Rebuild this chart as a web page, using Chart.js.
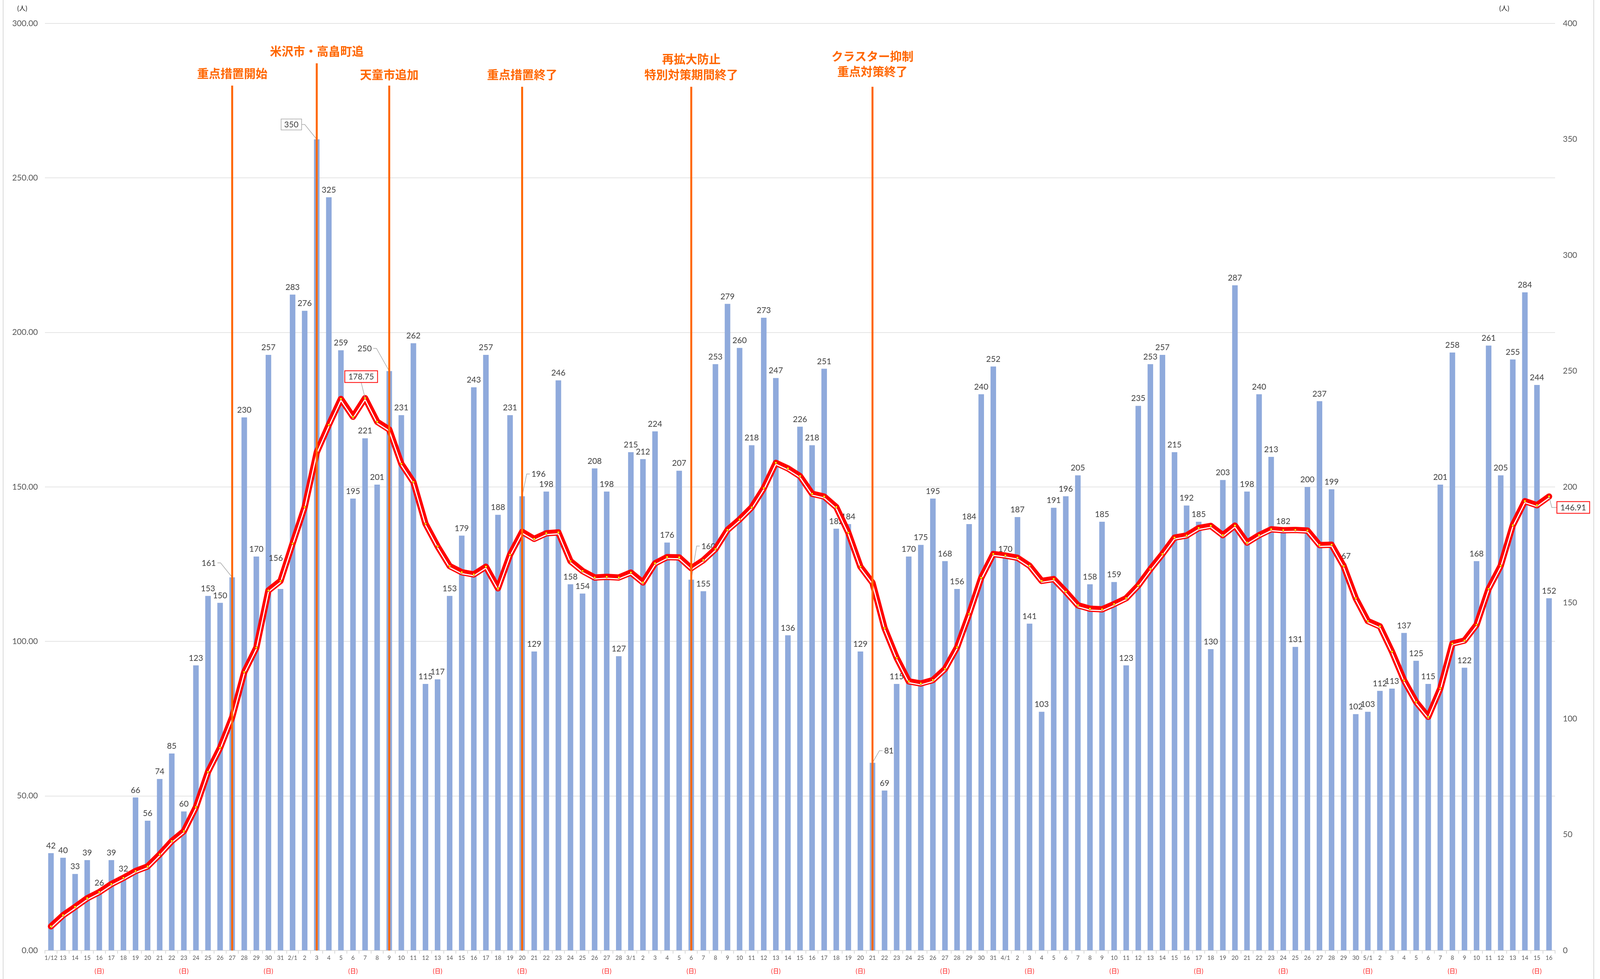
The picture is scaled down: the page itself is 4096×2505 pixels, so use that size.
<!DOCTYPE html>
<html>
<head>
<meta charset="utf-8">
<script src="https://cdn.jsdelivr.net/npm/chart.js@4/dist/chart.umd.min.js"></script>
<style>
  html, body { margin: 0; padding: 0; background: #fff; }
  canvas { display: block; }
</style>
</head>
<body>
<canvas id="covidChart" width="4096" height="2505"></canvas>
<script>
// 日付ラベル (1/12 - 5/16)
const dayLabels = [
  '1/12','13','14','15','16','17','18','19','20','21','22','23','24','25','26','27','28','29','30','31',
  '2/1','2','3','4','5','6','7','8','9','10','11','12','13','14','15','16','17','18','19','20','21','22','23','24','25','26','27','28',
  '3/1','2','3','4','5','6','7','8','9','10','11','12','13','14','15','16','17','18','19','20','21','22','23','24','25','26','27','28','29','30','31',
  '4/1','2','3','4','5','6','7','8','9','10','11','12','13','14','15','16','17','18','19','20','21','22','23','24','25','26','27','28','29','30',
  '5/1','2','3','4','5','6','7','8','9','10','11','12','13','14','15','16'
];

// 日曜日のインデックス
const sundayIdx = [4, 11, 18, 25, 32, 39, 46, 53, 60, 67, 74, 81, 88, 95, 102, 109, 116, 123];

// 新規感染者数 (人) 右軸
const newCases = [
  42, 40, 33, 39, 26, 39, 32, 66, 56, 74, 85, 60, 123, 153, 150, 161, 230, 170, 257, 156,
  283, 276, 350, 325, 259, 195, 221, 201, 250, 231, 262, 115, 117, 153, 179, 243, 257, 188, 231, 196, 129, 198, 246, 158, 154, 208, 198, 127,
  215, 212, 224, 176, 207, 160, 155, 253, 279, 260, 218, 273, 247, 136, 226, 218, 251, 182, 184, 129, 81, 69, 115, 170, 175, 195, 168, 156, 184, 240, 252,
  170, 187, 141, 103, 191, 196, 205, 158, 185, 159, 123, 235, 253, 257, 215, 192, 185, 130, 203, 287, 198, 240, 213, 182, 131, 200, 237, 199, 167, 102,
  103, 112, 113, 137, 125, 115, 201, 258, 122, 168, 261, 205, 255, 284, 244, 152
];

// 直近1週間の人口10万人あたり (左軸)
const weeklyPer100k = [
  7.8, 11.4, 14.1, 16.9, 18.9, 21.5, 23.5, 25.7, 27.2, 31.1, 35.4, 38.6, 46.4, 57.8, 65.6, 75.5, 90.1, 98.0, 116.5, 119.6,
  131.7, 143.5, 161.2, 170.1, 178.5, 172.7, 178.75, 171.1, 168.6, 157.5, 151.6, 138.1, 130.8, 124.4, 122.4, 121.7, 124.2, 117.2, 128.1, 135.5, 133.2, 135.0, 135.3, 126.0, 122.8, 120.7, 120.9, 120.7,
  122.3, 119.1, 125.3, 127.3, 127.2, 123.7, 126.3, 129.9, 136.1, 139.5, 143.4, 149.6, 157.8, 156.0, 153.5, 147.8, 146.9, 143.5, 135.2, 124.2, 119.0, 104.3, 94.7, 87.1, 86.4, 87.5, 91.1, 98.1, 108.9, 120.6, 128.3,
  127.8, 127.1, 124.5, 119.6, 120.2, 116.1, 111.7, 110.6, 110.4, 112.1, 114.0, 118.1, 123.4, 128.3, 133.6, 134.3, 136.7, 137.4, 134.4, 137.5, 132.0, 134.4, 136.3, 136.0, 136.1, 135.9, 131.2, 131.3, 124.4, 114.0,
  106.6, 104.9, 96.7, 87.4, 80.4, 75.6, 84.8, 99.3, 100.3, 105.4, 117.0, 124.5, 137.6, 145.4, 144.1, 146.91
];

const leftTicks = [0, 50, 100, 150, 200, 250, 300];
const rightTicks = [0, 50, 100, 150, 200, 250, 300, 350, 400];

// 対策の節目
const eventIdx = [15, 22, 28, 39, 53, 68];
const eventTexts = [
  ['重点措置開始'],
  ['米沢市・高畠町追'],
  ['天童市追加'],
  ['重点措置終了'],
  ['再拡大防止', '特別対策期間終了'],
  ['クラスター抑制', '重点対策終了']
];

// 表示位置の調整 (スタイル)
const eventStyle = [
  { textY: [188], lineTop: 219 },
  { textY: [131], lineTop: 162 },
  { textY: [191], lineTop: 219 },
  { textY: [191], lineTop: 222 },
  { textY: [151, 191], lineTop: 222 },
  { textY: [144, 183], lineTop: 222 }
];
// 位置を動かしたラベル (index: [dx, dy, boxed, leader])
const barCallouts = {
  15: [-60, -37, false, true],
  19: [-12, -80, false, false],
  22: [-65, -38, true, true],
  28: [-63, -58, false, true],
  39: [42, -57, false, true],
  53: [44, -86, false, true],
  68: [42, -31, false, true]
};
const lineCallouts = {
  26: [-10, -55],
  124: [62, 28]
};

const orange = '#FF6600';
const labelFont = '21px Lato, "Noto Sans", sans-serif';

const labelPlugin = {
  id: 'labels',
  beforeDatasetDraw(chart, args) {
    const ds = chart.data.datasets[args.index];
    if (ds.shiftY) {
      chart.ctx.save();
      chart.ctx.translate(0, ds.shiftY);
    }
  },
  afterDatasetDraw(chart, args) {
    const ctx = chart.ctx;
    const ds = chart.data.datasets[args.index];
    if (ds.shiftY) ctx.restore();
    if (args.index !== 0) return;
    // 棒グラフの数値ラベル
    ctx.save();
    ctx.font = labelFont;
    ctx.fillStyle = '#404040';
    ctx.textAlign = 'center';
    args.meta.data.forEach((bar, i) => {
      const txt = String(newCases[i]);
      const c = barCallouts[i];
      if (!c) {
        ctx.textBaseline = 'alphabetic';
        ctx.fillText(txt, bar.x, bar.y - 12);
        return;
      }
      const lx = bar.x + c[0], ly = bar.y + c[1];
      const w = ctx.measureText(txt).width;
      ctx.textBaseline = 'middle';
      if (c[2]) {
        ctx.fillStyle = '#fff';
        ctx.fillRect(lx - w / 2 - 8, ly - 14, w + 16, 28);
        ctx.strokeStyle = '#a6a6a6';
        ctx.lineWidth = 1.5;
        ctx.strokeRect(lx - w / 2 - 8, ly - 14, w + 16, 28);
        ctx.fillStyle = '#404040';
      }
      ctx.fillText(txt, lx, ly + 1);
      if (!c[3]) return;
      ctx.strokeStyle = '#a6a6a6';
      ctx.lineWidth = 1.5;
      ctx.beginPath();
      const side = c[0] < 0 ? 1 : -1;
      const sx = lx + side * (w / 2 + (c[2] ? 8 : 4));
      ctx.moveTo(sx, ly);
      ctx.lineTo(sx + side * 8, ly);
      ctx.lineTo(bar.x, bar.y);
      ctx.stroke();
    });
    ctx.restore();
  },
  afterDatasetsDraw(chart) {
    const ctx = chart.ctx;
    const x = chart.scales.x;
    const area = chart.chartArea;
    ctx.save();
    // 節目の縦線と見出し
    eventIdx.forEach((idx, k) => {
      const px = x.getPixelForValue(idx);
      ctx.strokeStyle = orange;
      ctx.lineWidth = 5;
      ctx.beginPath();
      ctx.moveTo(px, eventStyle[k].lineTop);
      ctx.lineTo(px, area.bottom);
      ctx.stroke();
      ctx.fillStyle = orange;
      ctx.font = 'bold 30px "Noto Sans CJK JP", sans-serif';
      ctx.textAlign = 'center';
      ctx.textBaseline = 'middle';
      eventTexts[k].forEach((t, j) => ctx.fillText(t, px, eventStyle[k].textY[j]));
    });
    // 折れ線の数値ラベル
    const lineMeta = chart.getDatasetMeta(1);
    ctx.font = labelFont;
    Object.keys(lineCallouts).forEach(key => {
      const i = Number(key);
      const pt = lineMeta.data[i];
      const c = lineCallouts[i];
      const txt = weeklyPer100k[i].toFixed(2);
      const w = ctx.measureText(txt).width;
      const bx = pt.x + c[0], by = pt.y + c[1];
      ctx.strokeStyle = '#a6a6a6';
      ctx.lineWidth = 1.5;
      ctx.beginPath();
      if (c[1] < 0) {
        ctx.moveTo(bx, by + 15);
        ctx.lineTo(pt.x, pt.y);
      } else {
        ctx.moveTo(pt.x, pt.y);
        ctx.lineTo(bx - w / 2 - 22, by);
        ctx.lineTo(bx - w / 2 - 9, by);
      }
      ctx.stroke();
      ctx.fillStyle = '#fff';
      ctx.fillRect(bx - w / 2 - 9, by - 15, w + 18, 30);
      ctx.strokeStyle = '#FF0000';
      ctx.lineWidth = 2;
      ctx.strokeRect(bx - w / 2 - 9, by - 15, w + 18, 30);
      ctx.fillStyle = '#404040';
      ctx.textAlign = 'center';
      ctx.textBaseline = 'middle';
      ctx.fillText(txt, bx, by + 1);
    });
    // 日曜日
    ctx.fillStyle = '#FF0000';
    ctx.font = '15px "Noto Sans CJK JP", sans-serif';
    ctx.textAlign = 'center';
    ctx.textBaseline = 'middle';
    sundayIdx.forEach(i => ctx.fillText('(日)', x.getPixelForValue(i), 2484));
    // 単位
    ctx.fillStyle = '#000';
    ctx.font = '16px "Noto Sans CJK JP", sans-serif';
    ctx.fillText('(人)', 57, 21);
    ctx.fillText('(人)', 3851, 21);
    // 外枠
    ctx.strokeStyle = '#d9d9d9';
    ctx.lineWidth = 2;
    ctx.beginPath();
    ctx.moveTo(8, 0); ctx.lineTo(8, 2505);
    ctx.moveTo(4080, 0); ctx.lineTo(4080, 2505);
    ctx.stroke();
    ctx.restore();
  }
};

Chart.defaults.font.family = 'Lato, "Noto Sans", sans-serif';

new Chart(document.getElementById('covidChart').getContext('2d'), {
  type: 'bar',
  data: {
    labels: dayLabels,
    datasets: [
      {
        type: 'bar',
        label: '新規感染者数',
        data: newCases,
        yAxisID: 'y1',
        backgroundColor: '#8FAADC',
        categoryPercentage: 1,
        barPercentage: 0.46,
        order: 4
      },
      {
        type: 'line',
        label: '直近1週間の人口10万人あたり',
        data: weeklyPer100k,
        yAxisID: 'y',
        borderColor: '#FF0000',
        borderWidth: 16,
        borderJoinStyle: 'round',
        borderCapStyle: 'round',
        pointRadius: 0,
        tension: 0,
        order: 3
      },
      {
        type: 'line',
        data: weeklyPer100k,
        yAxisID: 'y',
        borderColor: '#FFFFFF',
        borderWidth: 3,
        borderJoinStyle: 'round',
        pointRadius: 0,
        tension: 0,
        shiftY: 3.5,
        order: 2
      },
      {
        type: 'line',
        data: weeklyPer100k,
        yAxisID: 'y',
        showLine: false,
        pointRadius: 3,
        pointBackgroundColor: '#FFFF00',
        pointBorderColor: '#C00000',
        pointBorderWidth: 1,
        order: 1
      }
    ]
  },
  options: {
    responsive: false,
    devicePixelRatio: 1,
    animation: false,
    layout: { padding: { top: 60, left: 0, right: 0, bottom: 0 } },
    plugins: {
      legend: { display: false },
      tooltip: { enabled: false }
    },
    scales: {
      x: {
        offset: true,
        grid: { drawOnChartArea: false, drawTicks: true, tickLength: 8, color: '#d9d9d9', lineWidth: 2, offset: true },
        border: { color: '#d9d9d9', width: 2 },
        ticks: { autoSkip: false, maxRotation: 0, minRotation: 0, color: '#595959', font: { size: 15 }, padding: 2 },
        afterFit(scale) { scale.height = 73; }
      },
      y: {
        position: 'left',
        min: 0,
        max: 300,
        afterBuildTicks(scale) { scale.ticks = leftTicks.map(v => ({ value: v })); },
        grid: { color: '#e4e4e4', lineWidth: 2, drawTicks: false },
        border: { display: false },
        ticks: { color: '#595959', font: { size: 21 }, padding: 18, callback: v => v.toFixed(2) },
        afterFit(scale) { scale.width = 115; }
      },
      y1: {
        position: 'right',
        min: 0,
        max: 400,
        afterBuildTicks(scale) { scale.ticks = rightTicks.map(v => ({ value: v })); },
        grid: { drawOnChartArea: false, drawTicks: false },
        border: { display: false },
        ticks: { color: '#595959', font: { size: 21 }, padding: 20 },
        afterFit(scale) { scale.width = 115; }
      }
    }
  },
  plugins: [labelPlugin]
});
</script>
</body>
</html>
